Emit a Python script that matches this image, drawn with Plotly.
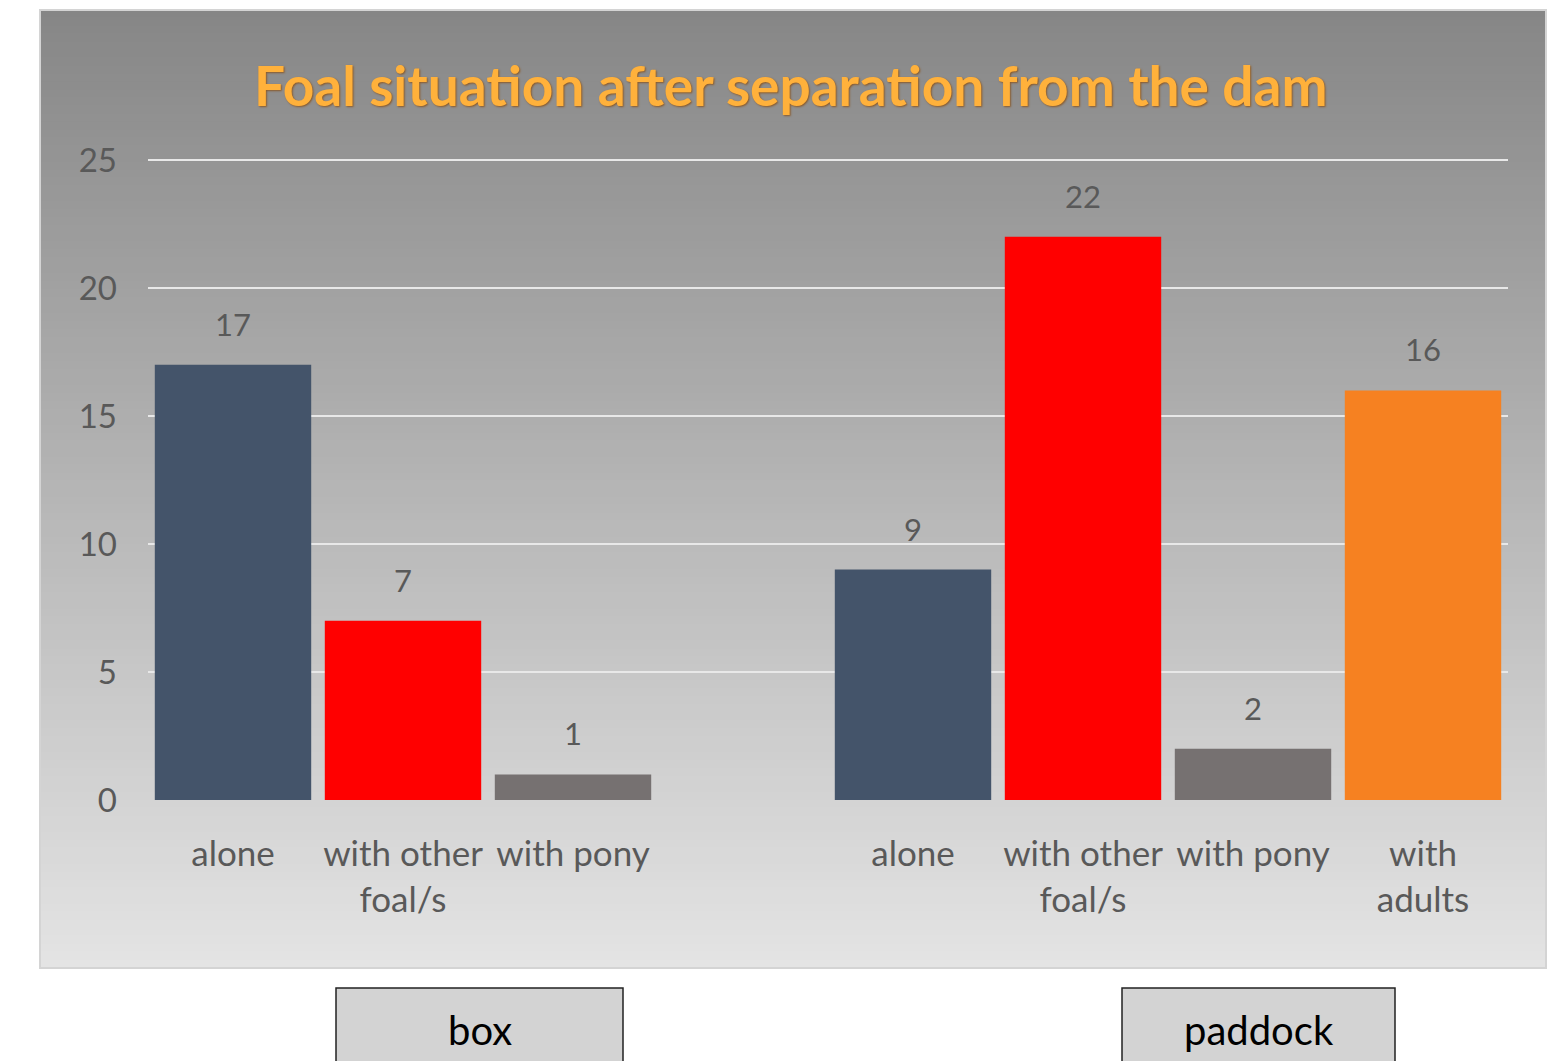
import plotly.graph_objects as go

# ---- data ----
categories = ["alone", "with other<br>foal/s", "with pony", "",
              "alone", "with other<br>foal/s", "with pony", "with<br>adults"]
values = [17, 7, 1, None, 9, 22, 2, 16]
bar_colors = ["#44546A", "#FF0000", "#767171", "#FFFFFF",
              "#44546A", "#FF0000", "#767171", "#F68121"]
y_ticks = [0, 5, 10, 15, 20, 25]
group_labels = ["box", "paddock"]
title_text = "Foal situation after separation from the dam"

W, H = 1564, 1061
L, R, T, B = 148, 56, 155, 261
pw, ph = W - L - R, H - T - B
y_top = (H - B - T) / 25.6

def px_x(px):
    return (px - L) / pw

def px_y(py):
    return (H - B - py) / ph

xs = list(range(len(categories)))
bx = [x for x, v in zip(xs, values) if v is not None]
bv = [v for v in values if v is not None]
bc = [c for c, v in zip(bar_colors, values) if v is not None]

fig = go.Figure()
fig.add_trace(go.Bar(x=bx, y=bv, marker=dict(color=bc, line=dict(width=0)),
                     width=0.92, hoverinfo="skip"))

shapes = []
# gradient background
x0, x1 = px_x(40), px_x(1546)
top_px, bot_px = 10, 968
n = 120
c_top = (134, 134, 134)
c_bot = (228, 228, 228)
for i in range(n):
    a = top_px + (bot_px - top_px) * i / n
    b = top_px + (bot_px - top_px) * (i + 1) / n
    t = (i + 0.5) / n
    col = tuple(int(round(c_top[k] + (c_bot[k] - c_top[k]) * t)) for k in range(3))
    shapes.append(dict(type="rect", xref="paper", yref="paper", layer="below",
                       x0=x0, x1=x1, y0=px_y(b + 0.5), y1=px_y(a - 0.5),
                       fillcolor="rgb(%d,%d,%d)" % col, line=dict(width=0)))
shapes.append(dict(type="rect", xref="paper", yref="paper", layer="below",
                   x0=x0, x1=x1, y0=px_y(bot_px), y1=px_y(top_px),
                   fillcolor="rgba(0,0,0,0)", line=dict(color="#d4d4d4", width=2)))

# group boxes
box_px = [(336, 623), (1122, 1395)]
annotations = []
for (a, b), lab in zip(box_px, group_labels):
    shapes.append(dict(type="rect", xref="paper", yref="paper",
                       x0=px_x(a), x1=px_x(b), y0=px_y(1075), y1=px_y(988),
                       fillcolor="#D3D3D3", line=dict(color="#222222", width=1.5)))
    annotations.append(dict(xref="paper", yref="paper", x=px_x((a + b) / 2), y=px_y(1030),
                            text=lab, showarrow=False, xanchor="center", yanchor="middle",
                            font=dict(family="Lato, 'Open Sans', sans-serif", size=40, color="#000000")))

# data labels
for x, v in zip(bx, bv):
    annotations.append(dict(x=x, y=v, xref="x", yref="y", text=str(v), showarrow=False,
                            yanchor="bottom", yshift=20,
                            font=dict(family="Lato, sans-serif", size=31, color="#595959")))

# title
annotations.append(dict(xref="paper", yref="paper", x=px_x(791), y=px_y(85),
                        text="<b>" + title_text + "</b>", showarrow=False,
                        xanchor="center", yanchor="middle",
                        font=dict(family="Lato, 'Open Sans', sans-serif", size=55, color="#FFB13B",
                                  shadow="1px 1px 2px #8a5a2a")))

fig.update_layout(
    width=W, height=H,
    margin=dict(l=L, r=R, t=T, b=B, pad=0),
    paper_bgcolor="#FFFFFF", plot_bgcolor="rgba(0,0,0,0)",
    showlegend=False, shapes=shapes, annotations=annotations,
    bargap=0.08,
    xaxis=dict(range=[-0.5, 7.5], tickmode="array",
               tickvals=[x for x, c in zip(xs, categories) if c],
               ticktext=[c for c in categories if c],
               showgrid=False, zeroline=False, showline=False, ticks="",
               ticklabelstandoff=30,
               tickfont=dict(family="Lato, sans-serif", size=35, color="#595959")),
    yaxis=dict(range=[0, y_top], tickmode="array", tickvals=y_ticks,
               showgrid=True, gridcolor="#E8E8E8", gridwidth=1.5,
               zeroline=False, showline=False, ticks="", ticklabelstandoff=30,
               tickfont=dict(family="Lato, sans-serif", size=33, color="#595959")),
)

fig.write_html("out.html")
